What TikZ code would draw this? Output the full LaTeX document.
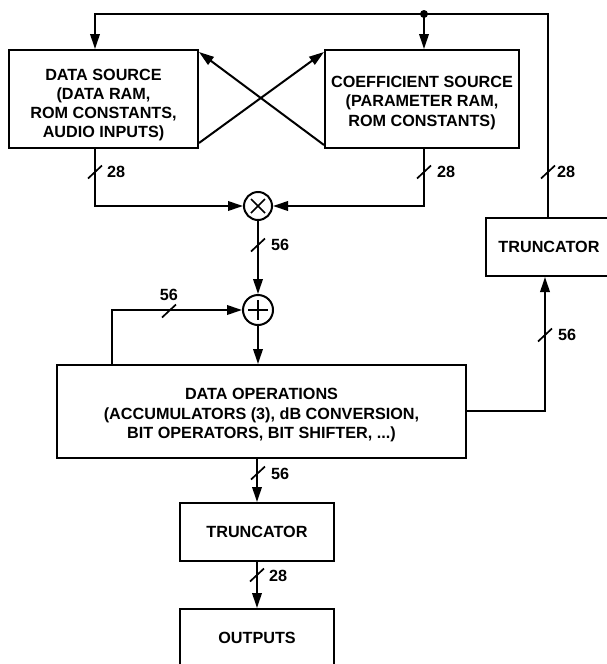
\documentclass[tikz,border=0pt]{standalone}
\usepackage{fontspec}
\setmainfont{Liberation Sans}
\usetikzlibrary{arrows.meta,calc}
\begin{document}
\begin{tikzpicture}[x=1pt,y=-1pt,
  line width=2pt,
  every node/.style={font=\fontsize{16.2}{19.2}\selectfont\bfseries},
  blk/.style={draw, rectangle, inner sep=0pt},
  txt/.style={align=center, inner sep=0pt},
  arr/.style={-{Triangle[length=15pt,width=9.5pt]}},
  lbl/.style={anchor=west, inner sep=0pt},
  sumnode/.style={draw, circle, inner sep=0pt},
  pics/busmark/.style={code={\draw[line width=1.7pt] (-7,6.5) -- (7,-6.5);}}
  ]
\useasboundingbox (0,0) rectangle (607,664);

% blocks
\node[blk, minimum width=189pt, minimum height=98pt] (ds) at (103.5,99) {};
\node[txt] (dst) at ($(ds)+(0,6)$) {DATA SOURCE\\(DATA RAM,\\ROM CONSTANTS,\\AUDIO INPUTS)};
\node[blk, minimum width=194pt, minimum height=98pt] (cs) at (422,99) {};
\node[txt] (cst) at ($(cs)+(0,4)$) {COEFFICIENT SOURCE\\(PARAMETER RAM,\\ROM CONSTANTS)};
\node[blk, minimum width=409pt, minimum height=93pt] (ops) at (261.5,411.5) {};
\node[txt, font=\fontsize{16.2}{19.5}\selectfont\bfseries] (opst) at ($(ops)+(0,4)$)
  {DATA OPERATIONS\\(ACCUMULATORS (3), dB CONVERSION,\\BIT OPERATORS, BIT SHIFTER, ...)};
\node[blk, minimum width=126pt, minimum height=58pt] (trR) at (549,247) {TRUNCATOR};
\node[blk, minimum width=154pt, minimum height=58pt] (tr) at (257,532) {TRUNCATOR};
\node[blk, minimum width=154pt, minimum height=58pt] (out) at (257,638) {OUTPUTS};

% multiplier and adder
\node[sumnode, minimum size=28pt] (mul) at (258,206) {};
\draw[line width=1.5pt] ($(mul)+(-7,-7)$) -- ($(mul)+(7,7)$);
\draw[line width=1.5pt] ($(mul)+(-7,7)$) -- ($(mul)+(7,-7)$);
\node[sumnode, minimum size=30pt] (add) at (258,310) {};
\draw[line width=1.5pt] ($(add)+(-10,0)$) -- ($(add)+(10,0)$);
\draw[line width=1.5pt] ($(add)+(0,-10)$) -- ($(add)+(0,10)$);

% helper coordinates
\coordinate (tl) at (95,14);
\coordinate (dot) at (424,14);
\coordinate (tr1) at (548,14);
\coordinate (fb) at (112,0);
\coordinate (rb) at (545,411);

% feedback loop at the top
\draw[arr] (trR.north -| tr1) -- (tr1) -- (tl) -- (tl |- ds.north);
\draw[arr] (dot) -- (dot |- cs.north);
\fill (dot) circle (4);

% sources to multiplier
\draw[arr] (tl |- ds.south) |- (mul.west);
\draw[arr] (dot |- cs.south) |- (mul.east);

% cross arrows
\draw[arr] ($(ds.south east)+(0,-6)$) -- ($(cs.north west)+(0,3)$);
\draw[arr] ($(cs.south west)+(0,-4)$) -- ($(ds.north east)+(0,3)$);

% multiplier -> adder -> ops
\draw[arr] (mul.south) -- (add.north);
\draw[arr] (add.south) -- (add.south |- ops.north);
\draw[arr] (fb |- ops.north) |- (add.west);

% ops -> right truncator
\draw[arr] (ops.east |- rb) -| (trR.south -| rb);

% ops -> truncator -> outputs
\draw[arr] (ops.south -| tr.north) -- (tr.north);
\draw[arr] (tr.south) -- (out.north);

% bus width marks
\pic at (95,172) {busmark};
\node[lbl] (l1) at (106,172) {28};
\pic at (424,172) {busmark};
\node[lbl] (l2) at (436,172) {28};
\pic at (548,172) {busmark};
\node[lbl] (l3) at (556,172) {28};
\pic at (258,245) {busmark};
\node[lbl] (l4) at (270,245) {56};
\pic at (169,311) {busmark};
\node[inner sep=0pt] (l5) at (169,295) {56};
\pic at (545,335) {busmark};
\node[lbl] (l6) at (557,335) {56};
\pic at (258,473) {busmark};
\node[lbl] (l7) at (270,473.5) {56};
\pic at (257,575) {busmark};
\node[lbl] (l8) at (268,575.5) {28};
\end{tikzpicture}
\end{document}
